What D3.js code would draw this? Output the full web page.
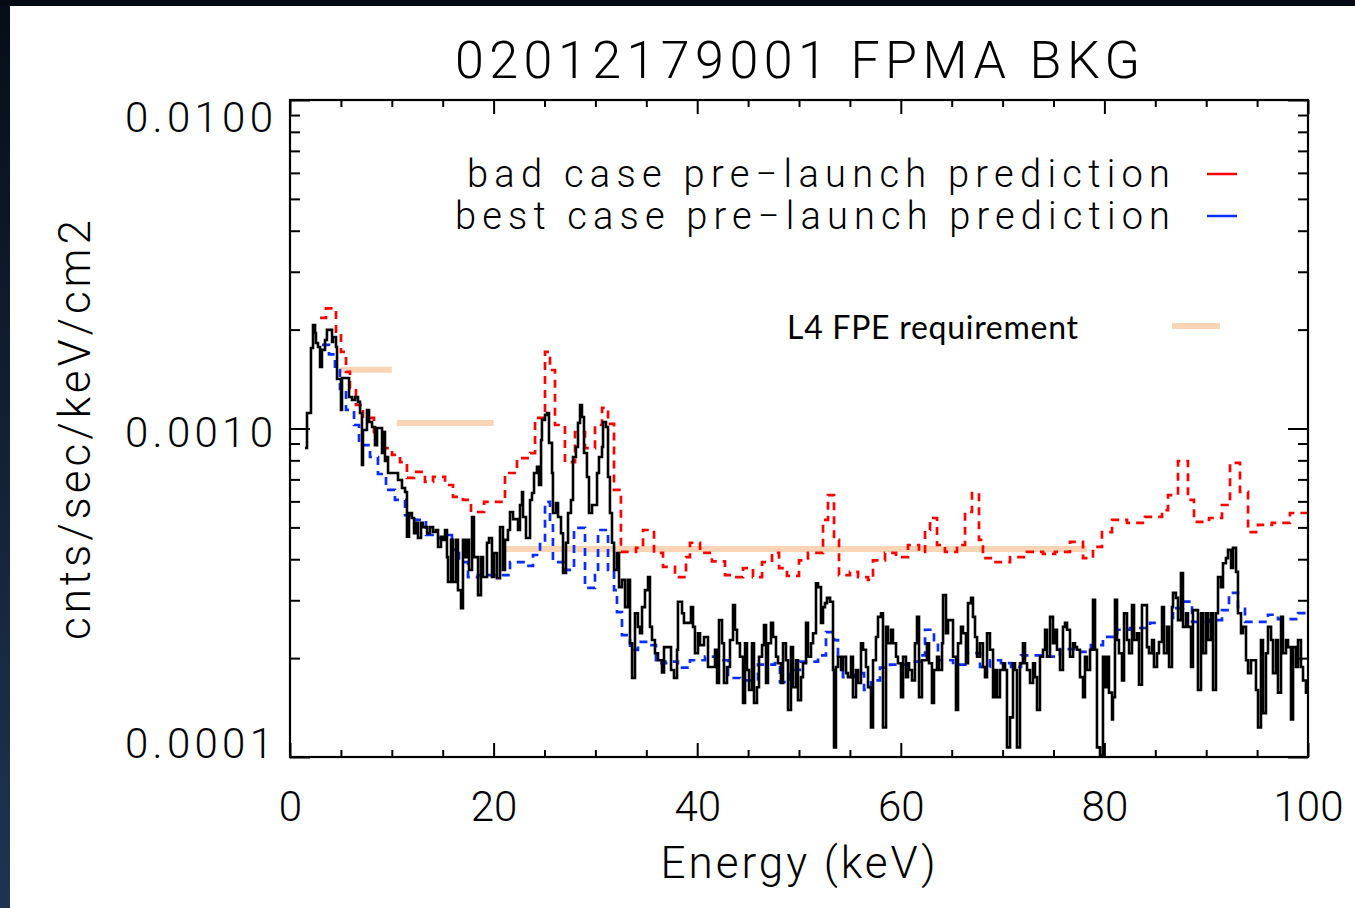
<!DOCTYPE html>
<html><head><meta charset="utf-8">
<script src="https://cdn.jsdelivr.net/npm/d3@7"></script>
<style>body{margin:0;background:#fff;overflow:hidden}svg{display:block}</style>
</head><body><svg id="c" width="1355" height="908"></svg>
<script>
// ---------------- data ----------------
const title = "02012179001 FPMA BKG";
const xTicks = [0, 20, 40, 60, 80, 100];
const yTicks = [1e-4, 1e-3, 1e-2];
const yTickLabels = ["0.0001", "0.0010", "0.0100"];
const xLabel = "Energy (keV)";
const yLabel = "cnts/sec/keV/cm2";
const legendLabels = ["bad case pre\u2212launch prediction", "best case pre\u2212launch prediction"];
const reqLabel = "L4 FPE requirement";
const UNIT = 1e-4;     // spectrum values below are in units of 1e-4 cnts/sec/keV/cm2
const E_MAX = 100;     // upper edge of last bin (keV)

// observed background: [bin left edge keV, rate]
const observed = [[1.47,8.72],[1.67,11.15],[2.06,17.58],[2.26,20.66],[2.46,19.53],[2.55,18.21],[2.75,17.71],[2.95,15.39],[3.14,17.35],[3.44,18.6],[3.63,19.96],[4.13,18.34],[4.22,18.99],[4.52,17.71],[4.62,14.15],[5.01,11.39],[5.11,14.25],[5.80,12.47],[6.09,12.21],[6.39,12.47],[6.68,12.05],[6.88,11.15],[7.07,7.74],[7.17,9.9],[7.56,11.39],[7.76,10.47],[8.06,10.11],[8.35,8.9],[8.55,10.04],[9.04,8.42],[9.14,9.75],[9.33,7.96],[9.53,8.19],[9.63,7.32],[10.61,6.97],[11.0,6.59],[11.3,6.41],[11.49,4.68],[11.69,5.53],[11.98,5.34],[12.18,4.80],[12.38,5.16],[12.57,4.64],[12.87,5.16],[13.06,5.01],[13.46,4.80],[13.75,5.01],[14.05,4.84],[14.34,4.91],[14.54,4.36],[14.83,4.68],[15.03,4.58],[15.23,4.91],[15.42,4.06],[15.52,3.41],[15.82,4.58],[16.01,3.41],[16.31,4.58],[16.5,3.22],[16.8,2.84],[16.99,4.58],[17.19,4.06],[17.39,4.58],[17.58,3.71],[17.88,5.38],[18.07,4.06],[18.47,3.11],[18.76,4.06],[18.96,3.53],[19.35,4.49],[19.55,4.64],[19.84,3.53],[20.04,4.18],[20.33,3.5],[20.63,5.01],[20.92,3.71],[21.12,4.58],[21.41,4.91],[21.61,5.57],[21.91,5.3],[22.4,4.91],[22.59,5.85],[22.79,6.41],[22.89,5.38],[23.18,4.64],[23.58,6.06],[23.77,6.36],[23.97,7.32],[24.26,7.64],[24.46,6.73],[24.66,9.23],[24.75,10.62],[25.05,11.0],[25.25,11.15],[25.44,9.04],[25.74,7.32],[25.83,5.53],[26.13,5.93],[26.33,5.38],[26.62,4.80],[26.82,3.63],[27.11,4.49],[27.31,5.53],[27.6,6.06],[27.8,8.19],[28.09,8.78],[28.29,10.4],[28.49,11.79],[28.68,10.84],[28.88,8.42],[29.17,7.12],[29.37,5.53],[29.67,5.85],[30.16,7.32],[30.35,8.19],[30.65,8.78],[30.75,10.47],[31.04,10.11],[31.24,7.12],[31.43,5.53],[31.63,4.49],[31.83,3.71],[32.12,4.18],[32.32,3.29],[32.61,3.46],[32.91,2.86],[33.2,3.46],[33.4,2.22],[33.6,1.74],[33.89,2.74],[34.18,2.49],[34.38,2.38],[34.58,2.86],[34.87,3.22],[35.17,3.53],[35.36,2.49],[35.56,2.27],[35.85,2.07],[36.15,1.97],[36.54,1.81],[36.74,2.16],[37.43,1.84],[37.72,1.74],[38.02,2.12],[38.11,2.97],[38.51,2.74],[38.7,2.56],[39.39,2.86],[39.59,2.49],[39.78,2.07],[40.08,2.38],[40.28,2.19],[40.67,2.32],[41.06,1.88],[41.75,2.12],[41.95,1.68],[42.14,2.61],[42.44,2.22],[42.63,1.68],[42.93,1.88],[43.22,2.27],[43.52,2.90],[43.71,2.44],[43.91,2.22],[44.2,2.02],[44.5,1.46],[44.7,2.22],[44.89,1.84],[45.09,1.60],[45.38,2.22],[45.58,1.46],[45.87,1.63],[46.07,2.02],[46.37,2.19],[46.56,2.52],[46.76,1.68],[46.95,2.22],[47.25,2.56],[47.45,2.32],[47.74,2.02],[47.94,1.93],[48.23,1.68],[48.43,2.22],[48.72,1.97],[48.92,1.39],[49.21,2.16],[49.41,1.63],[49.71,1.97],[49.9,1.49],[50.2,1.75],[50.39,1.93],[50.69,2.56],[50.88,2.02],[51.18,2.22],[51.38,2.38],[51.67,3.38],[51.87,3.29],[52.16,2.56],[52.36,2.86],[52.55,2.94],[52.75,3.05],[53.05,2.97],[53.34,1.84],[53.44,1.07],[53.63,1.88],[53.83,2.02],[54.13,1.84],[54.32,2.02],[54.62,1.80],[54.81,1.75],[55.11,2.02],[55.3,1.52],[55.6,1.84],[55.8,1.68],[56.09,2.22],[56.29,2.12],[56.58,1.88],[56.78,1.63],[57.07,1.23],[57.27,1.97],[57.56,2.32],[57.76,2.67],[58.06,2.74],[58.25,1.23],[58.55,2.49],[58.74,2.22],[59.04,2.44],[59.23,2.22],[59.53,2.02],[59.72,1.93],[60.02,1.52],[60.22,2.02],[60.51,1.75],[60.71,1.93],[60.81,1.84],[61.1,1.71],[61.39,2.22],[61.59,2.67],[61.79,1.52],[62.08,1.97],[62.57,2.22],[62.77,1.93],[63.06,1.46],[63.26,1.84],[63.56,2.02],[63.75,1.84],[64.05,2.22],[64.15,3.11],[64.44,2.38],[64.64,2.61],[65.13,2.02],[65.42,1.39],[65.62,2.22],[65.91,2.49],[66.11,2.38],[66.4,1.93],[66.6,2.94],[66.9,3.05],[67.09,2.67],[67.29,2.32],[67.49,2.02],[67.78,2.22],[68.07,1.88],[68.27,1.75],[68.47,2.38],[68.76,2.12],[69.06,1.52],[69.25,1.84],[69.45,1.52],[69.74,1.84],[70.04,1.93],[70.24,1.84],[70.43,1.07],[70.73,1.32],[71.02,1.93],[71.22,1.84],[71.41,1.07],[71.71,1.93],[72.0,2.22],[72.2,1.93],[72.4,1.84],[72.69,1.68],[72.99,1.93],[73.18,1.75],[73.38,1.39],[73.67,2.02],[73.97,2.12],[74.17,2.44],[74.36,2.02],[74.66,2.67],[74.95,2.22],[75.15,2.44],[75.34,2.12],[75.64,1.84],[75.93,2.49],[76.13,2.56],[76.33,2.44],[76.62,2.02],[76.92,2.22],[77.11,2.16],[77.31,2.12],[77.6,1.75],[77.9,1.52],[78.09,2.02],[78.29,1.84],[78.59,2.12],[78.88,3.01],[79.08,2.12],[79.27,1.07],[79.57,1.01],[79.86,2.02],[80.06,1.63],[80.26,2.02],[80.45,1.57],[80.75,1.30],[80.84,1.52],[81.04,3.01],[81.24,2.27],[81.43,2.07],[81.73,1.71],[81.93,2.74],[82.22,2.27],[82.42,2.07],[82.71,2.90],[82.91,2.27],[83.2,2.38],[83.4,1.66],[83.69,2.90],[84.18,2.16],[84.38,2.07],[84.68,2.27],[84.87,1.88],[85.17,2.07],[85.36,2.24],[85.66,2.86],[85.85,2.07],[86.15,2.49],[86.35,1.88],[86.64,2.86],[86.74,3.16],[87.03,3.05],[87.23,2.61],[87.52,3.63],[87.72,2.49],[88.02,2.74],[88.21,2.49],[88.51,1.88],[88.7,2.80],[89.19,1.60],[89.49,2.74],[89.69,2.07],[89.98,2.74],[90.18,2.27],[90.47,2.74],[90.67,1.60],[90.96,2.74],[91.16,3.53],[91.45,3.29],[91.65,3.89],[91.94,4.03],[92.14,4.27],[92.44,3.76],[92.63,4.33],[92.93,3.66],[93.12,2.74],[93.42,2.38],[93.61,2.49],[93.91,1.97],[94.11,1.80],[94.4,1.97],[94.89,1.60],[95.09,1.23],[95.38,2.27],[95.58,1.36],[95.87,2.07],[96.07,2.49],[96.37,2.27],[96.56,1.80],[96.86,2.27],[97.05,1.57],[97.35,2.67],[97.54,2.07],[97.84,2.27],[98.04,2.16],[98.33,1.30],[98.53,2.16],[98.82,1.88],[99.02,2.27],[99.31,1.88],[99.51,1.71],[99.8,1.57]];

// bad case pre-launch prediction (red dashed)
const badCase = [[2.95,21.7],[3.54,23.2],[4.52,19.53],[5.01,17.1],[5.5,14.87],[5.89,13.29],[6.48,11.79],[7.17,10.77],[8.25,9.75],[9.23,8.72],[10.02,8.31],[10.81,7.9],[11.49,7.07],[12.18,7.38],[13.26,6.88],[14.05,7.12],[15.23,6.73],[16.01,6.19],[16.99,6.06],[17.78,5.57],[19.06,5.98],[21.12,7.32],[22.3,8.13],[23.58,8.42],[24.07,10.77],[25.05,17.1],[25.54,15.07],[26.03,10.25],[27.01,7.9],[28.0,9.75],[28.98,8.72],[29.96,10.25],[30.65,11.55],[31.24,10.33],[31.83,6.5],[32.51,4.21],[33.99,4.33],[34.68,4.91],[35.76,4.18],[36.64,3.79],[37.82,3.53],[38.9,4.06],[39.29,4.49],[40.28,4.18],[41.45,3.94],[42.73,3.58],[43.52,3.53],[44.5,3.76],[45.48,3.53],[46.37,3.92],[47.35,4.18],[48.04,3.76],[48.82,3.56],[50.0,3.97],[50.88,4.18],[52.36,5.27],[52.85,6.27],[53.44,4.58],[53.93,3.58],[55.01,3.66],[55.8,3.53],[56.78,3.46],[57.27,3.97],[58.45,4.18],[59.53,4.06],[60.71,4.42],[61.79,4.21],[62.38,4.91],[62.87,5.34],[63.56,4.42],[64.34,4.21],[65.52,4.42],[66.31,5.57],[66.99,6.36],[67.68,4.58],[68.07,4.03],[69.06,3.92],[70.73,4.06],[72.4,4.21],[73.97,4.15],[75.15,4.21],[76.62,4.52],[77.9,4.03],[78.88,4.36],[79.76,4.84],[80.75,5.27],[82.22,5.16],[83.99,5.38],[85.66,5.64],[86.25,6.27],[87.23,7.96],[88.21,6.06],[88.8,5.2],[90.28,5.34],[91.55,5.85],[92.34,7.86],[93.32,6.41],[94.11,4.84],[95.09,5.09],[96.46,5.16],[98.23,5.53]];

// best case pre-launch prediction (blue dashed)
const bestCase = [[3.14,17.96],[3.83,16.82],[4.42,15.07],[4.91,13.2],[5.5,11.39],[6.29,10.25],[6.78,8.9],[7.86,8.19],[8.64,7.27],[9.43,6.5],[10.31,6.06],[11.3,5.45],[12.28,5.27],[13.36,4.74],[14.24,4.64],[15.32,4.74],[15.91,4.27],[16.6,3.92],[17.49,3.53],[18.47,3.58],[21.61,3.92],[23.08,3.82],[23.87,4.12],[24.56,4.52],[25.05,5.98],[25.54,5.16],[25.83,3.92],[27.01,3.71],[27.9,4.98],[28.98,3.27],[29.96,3.58],[30.26,4.91],[31.24,3.71],[31.83,3.22],[32.12,2.76],[32.61,2.35],[33.4,2.12],[34.18,2.24],[35.17,2.19],[35.95,1.93],[36.94,1.95],[38.11,1.87],[39.29,1.97],[40.77,2.02],[42.44,1.97],[43.03,1.74],[44.2,1.71],[45.97,1.91],[47.64,1.93],[48.13,1.69],[49.12,1.84],[50.1,1.95],[51.87,2.04],[52.65,2.40],[53.44,2.27],[53.83,2.04],[54.32,1.75],[55.5,1.80],[56.39,1.60],[57.07,1.71],[57.96,1.87],[58.94,1.91],[60.71,1.95],[61.89,2.04],[62.38,2.44],[63.26,2.27],[63.65,1.97],[65.13,1.91],[66.5,2.07],[67.78,1.88],[68.76,1.97],[69.84,1.93],[70.83,1.88],[71.81,2.04],[74.26,2.02],[75.64,2.13],[77.41,2.09],[78.68,2.19],[79.86,2.32],[81.24,2.44],[82.51,2.47],[84.48,2.56],[85.76,2.65],[86.74,2.84],[87.72,2.97],[88.61,2.58],[90.28,2.61],[91.55,2.80],[92.24,3.16],[93.12,2.86],[93.81,2.58],[96.07,2.71],[97.05,2.63],[99.02,2.74]];

// L4 FPE requirement levels (units of 1e-4)
const reqStart = [5, 10.5, 21];
const reqEnd   = [10, 20, 78.3];
const reqLevel = [15.1, 10.4, 4.3];

// ---------------- drawing ----------------
const svg = d3.select("#c");
const W = 1355, H = 908;
const L = 290, R = 1308, T = 100, B = 757;
const x = d3.scaleLinear([0, 100], [L, R]);
const y = d3.scaleLog([1e-4, 1e-2], [B, T]);

// slide background frame
const defs = svg.append("defs");
const gr = defs.append("linearGradient").attr("id","bandGrad").attr("x1",0).attr("y1",0).attr("x2",0).attr("y2",1);
gr.append("stop").attr("offset","0%").attr("stop-color","#070d19");
gr.append("stop").attr("offset","100%").attr("stop-color","#1f3453");
svg.append("rect").attr("width",W).attr("height",H).attr("fill","#fff");
svg.append("rect").attr("x",0).attr("y",0).attr("width",10).attr("height",H).attr("fill","url(#bandGrad)");
svg.append("rect").attr("x",0).attr("y",0).attr("width",W).attr("height",6).attr("fill","#050a14");

defs.append("clipPath").attr("id","plotClip").append("rect")
  .attr("x",L).attr("y",T).attr("width",R-L).attr("height",B-T);

const plot = svg.append("g").attr("clip-path","url(#plotClip)");

const stepLine = d3.line().x(d => x(d[0])).y(d => y(d[1])).curve(d3.curveStepAfter);
function steps(data){
  const pts = data.map(d => [d[0], d[1]*UNIT]);
  pts.push([E_MAX, data[data.length-1][1]*UNIT]);
  return pts;
}

const peach = "#f9d5b6";
// requirement bars
plot.selectAll("line.req").data(reqLevel).join("line")
  .attr("class","req")
  .attr("x1",(d,i)=>x(reqStart[i])).attr("x2",(d,i)=>x(reqEnd[i]))
  .attr("y1",d=>y(d*UNIT)).attr("y2",d=>y(d*UNIT))
  .attr("stroke",peach).attr("stroke-width",6);

plot.append("path").attr("d", stepLine(steps(badCase)))
  .attr("fill","none").attr("stroke","#ff0000").attr("stroke-width",2.7).attr("stroke-dasharray","8,6");
plot.append("path").attr("d", stepLine(steps(bestCase)))
  .attr("fill","none").attr("stroke","#0a2cff").attr("stroke-width",2.7).attr("stroke-dasharray","8,6");
plot.append("path").attr("d", stepLine(steps(observed)))
  .attr("fill","none").attr("stroke","#000").attr("stroke-width",2.6);

// axes / ticks
const minorX = d3.range(0, 101, 5).filter(v => v % 20 !== 0);
const minorY = [];
for (let e = -4; e < -2; e++) for (let k = 2; k <= 9; k++) minorY.push(k * Math.pow(10, e));

function tickStyle(g){ g.select(".domain").remove(); g.selectAll(".tick line").attr("stroke","#000").attr("stroke-width",2); }

svg.append("g").attr("transform",`translate(0,${B})`).call(d3.axisBottom(x).tickValues(minorX).tickSize(-7).tickFormat("")).call(tickStyle);
svg.append("g").attr("transform",`translate(0,${T})`).call(d3.axisTop(x).tickValues(minorX).tickSize(-7).tickFormat("")).call(tickStyle);
svg.append("g").attr("transform",`translate(0,${T})`).call(d3.axisTop(x).tickValues(xTicks).tickSize(-14).tickFormat("")).call(tickStyle);
const xb = svg.append("g").attr("transform",`translate(0,${B})`)
  .call(d3.axisBottom(x).tickValues(xTicks).tickSize(-14).tickPadding(34).tickFormat(d3.format("d"))).call(tickStyle);
xb.selectAll("text").attr("font-family","Roboto").attr("font-weight",300).attr("font-size",42).attr("fill","#000");

svg.append("g").attr("transform",`translate(${L},0)`).call(d3.axisLeft(y).tickValues(minorY).tickSize(-10).tickFormat("")).call(tickStyle);
svg.append("g").attr("transform",`translate(${L},0)`).call(d3.axisLeft(y).tickValues(yTicks).tickSize(-20).tickFormat("")).call(tickStyle);
svg.append("g").attr("transform",`translate(${R},0)`).call(d3.axisRight(y).tickValues(minorY).tickSize(-10).tickFormat("")).call(tickStyle);
svg.append("g").attr("transform",`translate(${R},0)`).call(d3.axisRight(y).tickValues(yTicks).tickSize(-20).tickFormat("")).call(tickStyle);

// y tick labels (edge labels kept inside the axis range)
svg.append("g").selectAll("text").data(yTicks).join("text")
  .attr("x", 273)
  .attr("y", d => Math.min(Math.max(y(d) + 4, T + 17), B - 14))
  .attr("dominant-baseline","central")
  .attr("text-anchor","end")
  .attr("font-family","Roboto").attr("font-weight",300).attr("font-size",42)
  .attr("textLength",148).attr("lengthAdjust","spacing")
  .text((d,i) => yTickLabels[i]);

// frame
svg.append("rect").attr("x",L).attr("y",T).attr("width",R-L).attr("height",B-T)
  .attr("fill","none").attr("stroke","#000").attr("stroke-width",2.2);

// title & axis titles
const txt = (s) => svg.append("text").attr("font-family","Roboto").attr("font-weight",300).attr("fill","#000").text(s);
txt(title).attr("x",455).attr("y",78).attr("font-size",52).attr("textLength",685).attr("lengthAdjust","spacing");
txt(xLabel).attr("x",798).attr("y",878).attr("text-anchor","middle").attr("font-size",44).attr("textLength",275).attr("lengthAdjust","spacing");
txt(yLabel).attr("transform","translate(90,430) rotate(-90)").attr("text-anchor","middle").attr("font-size",44).attr("textLength",420).attr("lengthAdjust","spacing");

// legend
const legColors = ["#ff0000", "#0a2cff"];
const legX = [467, 455], legW = [703, 715], legBase = [187, 229], legLineY = [174, 216];
legendLabels.forEach((s, i) => {
  txt(s).attr("x",legX[i]).attr("y",legBase[i]).attr("font-size",38).attr("textLength",legW[i]).attr("lengthAdjust","spacing");
  svg.append("line").attr("x1",1207).attr("x2",1237).attr("y1",legLineY[i]).attr("y2",legLineY[i])
    .attr("stroke",legColors[i]).attr("stroke-width",2.5);
});
svg.append("text").attr("x",787).attr("y",339).attr("font-family","Lato").attr("font-size",32)
  .attr("textLength",291).attr("lengthAdjust","spacing").attr("fill","#000").text(reqLabel);
svg.append("line").attr("x1",1172).attr("x2",1220).attr("y1",326).attr("y2",326)
  .attr("stroke",peach).attr("stroke-width",6);
</script></body></html>
